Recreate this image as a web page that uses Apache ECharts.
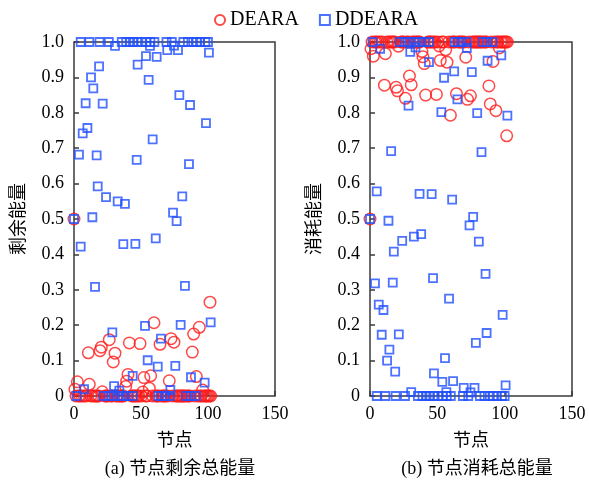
<!DOCTYPE html>
<html>
<head>
<meta charset="utf-8">
<script src="https://cdn.jsdelivr.net/npm/echarts@6/dist/echarts.min.js"></script>
<style>
html, body { margin: 0; padding: 0; background: #fff; }
#chart { width: 589px; height: 485px; }
</style>
</head>
<body>
<div id="chart"></div>
<script>
var legendNames = ['DEARA', 'DDEARA'];
var xTicks = [0, 50, 100, 150];
var yTicks = [0, 0.1, 0.2, 0.3, 0.4, 0.5, 0.6, 0.7, 0.8, 0.9, 1.0];

// (a) remaining energy - DEARA, scattered points [node, value]
var remainDEARA = [
    [0, 0.5], [101.5, 0.265], [59.7, 0.207], [93.5, 0.194], [89.3, 0.175], [26.3, 0.159],
    [72.4, 0.162], [74.6, 0.152], [41.3, 0.150], [49.3, 0.148], [20.4, 0.138], [19.4, 0.128],
    [10.7, 0.122], [30.6, 0.121], [64.2, 0.146], [88.3, 0.124], [29.3, 0.096], [40.3, 0.061],
    [39.3, 0.042], [38.6, 0.027], [52.2, 0.052], [57.2, 0.057], [71.1, 0.043], [91.3, 0.055],
    [2.5, 0.040], [11.4, 0.033], [0.7, 0.019], [21.1, 0.012], [56.2, 0.022], [51.3, 0.011],
    [96, 0.017]
];
// nodes of DEARA sitting on 0 remaining (= 1.0 consumed)
var deEmptyNodes = [1.5, 3.5, 4.5, 6, 7.5, 9, 12.5, 14, 15.5, 16.5, 17.5, 18.5, 23, 24, 25, 27.5,
    28.5, 31.5, 32.5, 34, 35, 36, 37, 43, 44, 45, 46, 47.5, 48.5, 50.5, 53.5, 54.5, 58.5, 61, 62,
    63, 65.5, 66.5, 67.5, 68.5, 70, 73.5, 76, 77, 78, 79, 80, 81, 82, 83, 84.5, 85.5, 86.5, 90,
    92.5, 94.5, 95, 97, 98, 99, 100, 101, 102];

// (a) remaining energy - DDEARA
var remainDDEARA = [
    [30.6, 0.989], [56.7, 0.989], [74.6, 0.99], [69.6, 0.977], [77.6, 0.977], [100.7, 0.97],
    [53.7, 0.96], [61.7, 0.958], [47.5, 0.936], [18.7, 0.931], [12.7, 0.90], [55.7, 0.893],
    [14.4, 0.869], [78.6, 0.85], [8.7, 0.827], [21.4, 0.826], [86.6, 0.822], [98.5, 0.771],
    [10, 0.757], [6.5, 0.742], [58.7, 0.725], [3.7, 0.682], [16.9, 0.68], [46.8, 0.667],
    [85.8, 0.655], [17.7, 0.592], [23.9, 0.562], [32.6, 0.55], [38, 0.543], [80.8, 0.564],
    [73.9, 0.518], [76.6, 0.494], [13.7, 0.505], [0, 0.5], [5, 0.422], [36.8, 0.429],
    [45.8, 0.43], [61, 0.445], [15.7, 0.308], [82.8, 0.311], [28.6, 0.18], [53, 0.198],
    [64.9, 0.162], [79.6, 0.201], [102, 0.208], [55, 0.101], [62.5, 0.083], [75.6, 0.085],
    [43.8, 0.057], [29.9, 0.028], [33.8, 0.015], [7.5, 0.019], [71.9, 0.017], [87.3, 0.053],
    [97.5, 0.038]
];
// DDEARA nodes with full remaining energy (1.0) / nothing consumed
var ddFullNodes = [5, 11.4, 19, 26, 35.6, 39, 42, 44, 47, 50.5, 54, 57, 60, 69, 73, 81.6, 85, 89,
    91.5, 94, 98, 100];
// DDEARA nodes with nothing left (0) / all consumed
var ddEmptyNodes = [1.8, 22, 25.6, 29.3, 33, 36.8, 40.5, 43.8, 63, 65.4, 67.9, 71.6, 83.6, 87, 91];

// (b) consumed energy - DEARA
var consumeDEARA = [
    [0, 0.5], [101.5, 0.735], [59.7, 0.793], [93.5, 0.806], [89.3, 0.825], [26.3, 0.841],
    [72.4, 0.838], [74.6, 0.848], [41.3, 0.85], [49.3, 0.852], [20.4, 0.862], [19.4, 0.872],
    [10.7, 0.878], [30.6, 0.879], [64.2, 0.854], [88.3, 0.876], [29.3, 0.904], [40.3, 0.939],
    [39.3, 0.958], [38.6, 0.973], [52.2, 0.948], [57.2, 0.943], [71.1, 0.957], [91.3, 0.945],
    [2.5, 0.96], [11.4, 0.967], [0.7, 0.981], [21.1, 0.988], [56.2, 0.978], [51.3, 0.989],
    [96, 0.983]
];
// (b) consumed energy - DDEARA
var consumeDDEARA = [
    [30.6, 0.011], [56.7, 0.011], [74.6, 0.01], [69.6, 0.023], [77.6, 0.023], [100.7, 0.03],
    [53.7, 0.04], [61.7, 0.042], [47.5, 0.064], [18.7, 0.069], [12.7, 0.10], [55.7, 0.107],
    [14.4, 0.131], [78.6, 0.15], [8.7, 0.173], [21.4, 0.174], [86.6, 0.178], [98.5, 0.229],
    [10, 0.243], [6.5, 0.258], [58.7, 0.275], [3.7, 0.318], [16.9, 0.32], [46.8, 0.333],
    [85.8, 0.345], [17.7, 0.408], [23.9, 0.438], [32.6, 0.45], [38, 0.457], [80.8, 0.436],
    [73.9, 0.482], [76.6, 0.506], [13.7, 0.495], [0, 0.5], [5, 0.578], [36.8, 0.571],
    [45.8, 0.57], [61, 0.555], [15.7, 0.692], [82.8, 0.689], [28.6, 0.82], [53, 0.802],
    [64.9, 0.838], [79.6, 0.799], [102, 0.792], [55, 0.899], [62.5, 0.917], [75.6, 0.915],
    [43.8, 0.943], [29.9, 0.972], [33.8, 0.985], [7.5, 0.981], [71.9, 0.983], [87.3, 0.947],
    [97.5, 0.962]
];

var serif = "'Liberation Serif', 'Noto Sans CJK SC'";
var axisColor = '#3a3a3a';

function pointsAt(nodes, value) {
    return nodes.map(function (n) { return [n, value]; });
}

function xAxisFor(gridIndex) {
    return {
        gridIndex: gridIndex, type: 'value',
        min: xTicks[0], max: xTicks[xTicks.length - 1], interval: 50,
        name: '节点', nameLocation: 'middle', nameGap: 36,
        nameTextStyle: { fontFamily: serif, fontSize: 18, color: '#000' },
        axisLine: { show: false },
        axisTick: { show: true, inside: true, length: 5, lineStyle: { color: axisColor, width: 1.5 } },
        axisLabel: { fontFamily: serif, fontSize: 18, color: '#000', margin: 9 },
        splitLine: { show: false }
    };
}

function yAxisFor(gridIndex, name) {
    return {
        gridIndex: gridIndex, type: 'value',
        min: yTicks[0], max: yTicks[yTicks.length - 1], interval: 0.1,
        name: name, nameLocation: 'middle', nameGap: 46,
        nameTextStyle: { fontFamily: serif, fontSize: 18, color: '#000' },
        axisLine: { show: false },
        axisTick: { show: true, inside: true, length: 5, lineStyle: { color: axisColor, width: 1.5 } },
        axisLabel: {
            fontFamily: serif, fontSize: 18, color: '#000', margin: 10,
            formatter: function (v) { return v === 0 ? '0' : v.toFixed(1); }
        },
        splitLine: { show: false }
    };
}

function redSeries(i, data) {
    return {
        name: 'DEARA', type: 'scatter', xAxisIndex: i, yAxisIndex: i,
        symbol: 'circle', symbolSize: 11.5,
        itemStyle: { color: 'rgba(0,0,0,0)', borderColor: '#ff1a1a', borderWidth: 1.5 },
        data: data
    };
}

function blueSeries(i, data) {
    return {
        name: 'DDEARA', type: 'scatter', xAxisIndex: i, yAxisIndex: i,
        symbol: 'rect', symbolSize: 8,
        itemStyle: { color: 'rgba(0,0,0,0)', borderColor: '#1f4fff', borderWidth: 1.8 },
        data: data
    };
}

var chart = echarts.init(document.getElementById('chart'));
var option = {
    animation: false,
    backgroundColor: '#fff',
    title: [
        { text: '(a) 节点剩余总能量', left: 175, top: 455, textAlign: 'center',
          textStyle: { fontFamily: serif, fontSize: 18, fontWeight: 'normal', color: '#000' } },
        { text: '(b) 节点消耗总能量', left: 472, top: 455, textAlign: 'center',
          textStyle: { fontFamily: serif, fontSize: 18, fontWeight: 'normal', color: '#000' } }
    ],
    legend: {
        data: [
            { name: legendNames[0], icon: 'circle' },
            { name: legendNames[1], icon: 'rect' }
        ],
        left: 209, top: 5, itemWidth: 10, itemHeight: 10, itemGap: 20,
        textStyle: { fontFamily: serif, fontSize: 20, color: '#000' }
    },
    grid: [
        { left: 74, top: 42, width: 201, height: 354, show: true, borderColor: axisColor, borderWidth: 1.5 },
        { left: 370, top: 42, width: 202, height: 354, show: true, borderColor: axisColor, borderWidth: 1.5 }
    ],
    xAxis: [xAxisFor(0), xAxisFor(1)],
    yAxis: [yAxisFor(0, '剩余能量'), yAxisFor(1, '消耗能量')],
    series: [
        redSeries(0, remainDEARA.concat(pointsAt(deEmptyNodes, 0))),
        blueSeries(0, remainDDEARA.concat(pointsAt(ddFullNodes, 1), pointsAt(ddEmptyNodes, 0))),
        redSeries(1, consumeDEARA.concat(pointsAt(deEmptyNodes, 1))),
        blueSeries(1, consumeDDEARA.concat(pointsAt(ddFullNodes, 0), pointsAt(ddEmptyNodes, 1)))
    ]
};
chart.setOption(option);
</script>
</body>
</html>
